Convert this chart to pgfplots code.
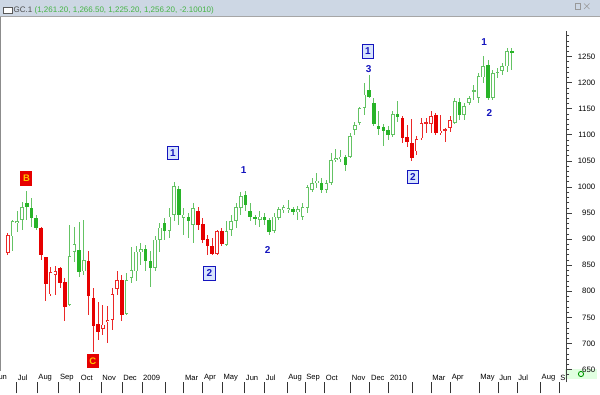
\documentclass[border=0pt]{standalone}
\usepackage{fontspec}
\setmainfont{Liberation Sans}
\usepackage{pgfplots}
\usepackage{pgfplotstable}
\pgfplotsset{compat=1.18}
\definecolor{gline}{RGB}{100,195,100}
\definecolor{gfill}{RGB}{40,180,40}
\definecolor{rline}{RGB}{235,40,40}
\definecolor{rfill}{RGB}{230,0,0}
\definecolor{wblue}{RGB}{20,20,190}
\definecolor{boxbg}{RGB}{215,228,252}
\definecolor{titlebg}{RGB}{205,215,228}
\definecolor{titlegreen}{RGB}{70,180,70}
\definecolor{bctext}{RGB}{255,195,0}

% green hollow (close > open)
\pgfplotstableread{
i o h l c
2 905 937 877 934
3 930 953 914 935
4 937 972 918 961
14 774 927 771 867
15 876 924 857 890
17 838 937 831 860
26 756 835 755 822
27 826 884 815 840
28 838 886 819 876
29 875 892 851 881
32 844 905 838 899
33 899 931 876 922
35 915 959 902 943
36 947 1010 934 1001
38 940 959 908 947
40 927 969 892 959
47 889 934 886 915
48 918 947 905 934
49 934 969 921 962
50 959 991 947 982
54 937 953 924 943
57 915 950 911 943
58 940 962 937 958
59 956 966 950 961
60 956 975 950 960
62 951 964 937 957
63 943 969 937 962
64 959 1004 950 999
65 994 1017 991 1008
66 1008 1026 998 1012
68 994 1014 988 1007
69 1007 1065 1004 1051
70 1051 1072 1048 1055
71 1054 1071 1048 1058
73 1058 1103 1055 1098
74 1109 1125 1100 1119
75 1122 1154 1119 1151
76 1152 1199 1138 1177
82 1100 1145 1096 1140
95 1122 1170 1121 1164
97 1138 1161 1129 1155
98 1161 1175 1157 1170
99 1183 1196 1167 1186
100 1170 1218 1160 1212
101 1210 1250 1199 1231
103 1170 1224 1167 1218
104 1218 1228 1208 1221
105 1222 1237 1215 1232
106 1231 1266 1221 1260
}\tGH
% green filled (close < open)
\pgfplotstableread{
i o h l c
5 969 992 937 961
6 959 978 924 941
7 941 946 918 922
16 879 932 828 836
30 881 889 838 858
31 858 877 809 844
34 931 940 899 916
37 996 1001 927 947
39 943 950 902 934
51 984 993 953 966
52 953 969 934 943
53 942 947 927 940
55 942 950 927 937
56 936 940 908 914
61 957 962 946 951
67 1008 1017 988 994
72 1057 1061 1031 1042
77 1185 1215 1170 1173
78 1161 1170 1116 1121
79 1117 1145 1100 1111
80 1114 1121 1079 1108
81 1109 1116 1090 1100
83 1140 1164 1125 1134
96 1162 1170 1129 1138
102 1234 1244 1167 1170
107 1261 1266 1225 1256
}\tGF
% red hollow
\pgfplotstableread{
i o h l c
1 873 911 870 907
10 794 847 790 836
11 831 849 793 838
21 728 773 716 736
22 741 771 700 745
23 745 806 726 794
24 804 838 793 822
45 871 918 870 916
87 1068 1097 1061 1091
88 1093 1132 1090 1123
89 1121 1132 1103 1124
90 1121 1146 1103 1136
92 1103 1138 1100 1108
93 1108 1113 1087 1110
94 1113 1135 1106 1128
}\tRH
% red filled
\pgfplotstableread{
i o h l c
8 921 924 860 870
9 865 866 782 813
12 844 846 807 815
13 817 825 743 769
18 858 877 755 790
19 788 806 684 734
20 737 779 707 721
25 822 831 742 755
41 953 961 918 927
42 929 940 892 899
43 900 908 870 886
44 886 902 870 871
46 916 921 886 890
84 1133 1136 1084 1093
85 1095 1119 1077 1087
86 1084 1130 1049 1055
91 1137 1141 1100 1103
}\tRF

\pgfplotsset{
  wick/.style={draw=none, mark=none, error bars/.cd, y dir=both, y explicit,
    error mark=none, error bar style={line width=0.9pt, draw=#1, solid}},
  body/.style 2 args={draw=none, mark=none, error bars/.cd, y dir=both, y explicit,
    error mark=none, error bar style={line width=#2, draw=#1, solid}},
}
\newcommand{\wicks}[2]{\addplot[wick=#2] table[x=i, y expr={(\thisrow{h}+\thisrow{l})/2}, y error expr={(\thisrow{h}-\thisrow{l})/2}] {#1};}
\newcommand{\bodies}[2]{\addplot[body={#2}{3.6pt}] table[x=i, y expr={(\thisrow{o}+\thisrow{c})/2}, y error expr={max(abs(\thisrow{c}-\thisrow{o})/2,1.3)}] {#1};}
\newcommand{\hollow}[1]{\addplot[body={white}{2pt}] table[x=i, y expr={(\thisrow{o}+\thisrow{c})/2}, y error expr={max(abs(\thisrow{c}-\thisrow{o})/2-1.6,0)}] {#1};}

\begin{document}
\begin{tikzpicture}[x=1pt,y=1pt]
\useasboundingbox (0,0) rectangle (600,395);
\fill[white] (0,0) rectangle (600,395);
% title bar
\fill[titlebg] (0,379) rectangle (600,395);
\draw[black!35, line width=0.8pt] (0,378.4) -- (600,378.4);
\draw[black!65, line width=0.6pt, fill=white] (3.3,381.2) rectangle (12.7,387.8);
\node[anchor=west, inner sep=0pt, font=\fontsize{8}{9}\selectfont] at (13.5,384.4)
  {\textcolor{black!70}{GC.1} \textcolor{titlegreen}{(1,261.20, 1,266.50, 1,225.20, 1,256.20, -2.10010)}};
\draw[black!40, line width=0.5pt] (575,386) rectangle (580.5,391.5);
\draw[black!40, line width=0.6pt] (584,386)--(589.5,391.5) (584,391.5)--(589.5,386);
% left border
\draw[black!45, line width=1.2pt] (0.6,24) -- (0.6,378);
% bottom-right scroll box
\fill[green!12] (565,16) rectangle (597,26);
\draw[green!60!black, line width=0.9pt] (581,21) circle (2.6);

\begin{axis}[
  at={(1,24)}, anchor=south west, scale only axis,
  width=562pt, height=351pt,
  xmin=0.369, xmax=118.56, ymin=625.12, ymax=1297.92,
  axis x line*=bottom, axis y line*=right,
  x axis line style={draw=none},
  y axis line style={draw=black!75, line width=0.6pt, -},
  tick align=outside,
  xtick={2.83,7.16,11.7,16.1,20.6,25.0,29.2,34.2,38.0,42.0,46.1,50.8,55.0,59.7,63.5,67.6,73.1,77.1,81.1,86.0,90.0,94.1,100.1,104.1,108.1,113.0,116.9},
  xticklabels={Jul,Aug,Sep,Oct,Nov,Dec,2009,,Mar,Apr,May,Jun,Jul,Aug,Sep,Oct,Nov,Dec,2010,,Mar,Apr,May,Jun,Jul,Aug,S},
  xtick style={draw=black!80, line width=0.6pt, /pgfplots/major tick length=11pt},
  xticklabel style={anchor=west, inner sep=0pt, font=\fontsize{7.6}{8}\selectfont, xshift=1.2pt, yshift=9pt},
  ytick={650,700,...,1250},
  minor ytick={640,650,...,1290},
  ytick style={draw=black!75, line width=0.5pt, /pgfplots/major tick length=5pt, /pgfplots/minor tick length=2.7pt},
  yticklabel style={anchor=west, align=right, text width=20pt, inner sep=0pt, font=\fontsize{7.8}{8}\selectfont, xshift=4pt},
  /pgf/number format/1000 sep={},
  /pgf/number format/assume math mode=true,
]
\wicks{\tGH}{gline}
\bodies{\tGH}{gline}
\hollow{\tGH}
\wicks{\tGF}{gline}
\bodies{\tGF}{gfill}
\wicks{\tRH}{rline}
\bodies{\tRH}{rline}
\hollow{\tRH}
\wicks{\tRF}{rline}
\bodies{\tRF}{rfill}

\tikzset{
  bc/.style={fill=rfill, text=bctext, font=\bfseries\fontsize{9.5}{10}\selectfont, minimum width=12pt, minimum height=14.5pt, inner sep=0pt},
  nb/.style={fill=boxbg, draw=wblue, line width=0.8pt, text=wblue, font=\bfseries\fontsize{10}{10}\selectfont, minimum width=11.5pt, minimum height=13.5pt, inner sep=0pt},
  nl/.style={text=wblue, font=\bfseries\fontsize{10}{10}\selectfont, inner sep=0pt},
}
\node[bc] at (axis cs:4.93,1016.1) {B};
\node[bc] at (axis cs:18.88,665.9) {C};
\node[nb] at (axis cs:35.74,1065.4) {1};
\node[nl] at (axis cs:50.63,1032.8) {1};
\node[nb] at (axis cs:43.42,834.4) {2};
\node[nl] at (axis cs:55.68,878.1) {2};
\node[nb] at (axis cs:76.75,1259.6) {1};
\node[nl] at (axis cs:76.92,1225.5) {3};
\node[nb] at (axis cs:86.22,1019.0) {2};
\node[nl] at (axis cs:101.21,1277.8) {1};
\node[nl] at (axis cs:102.30,1141.1) {2};
\end{axis}
\node[anchor=west, inner sep=0pt, font=\fontsize{7.6}{8}\selectfont] at (-5.5,18) {Jun};
\end{tikzpicture}
\end{document}
